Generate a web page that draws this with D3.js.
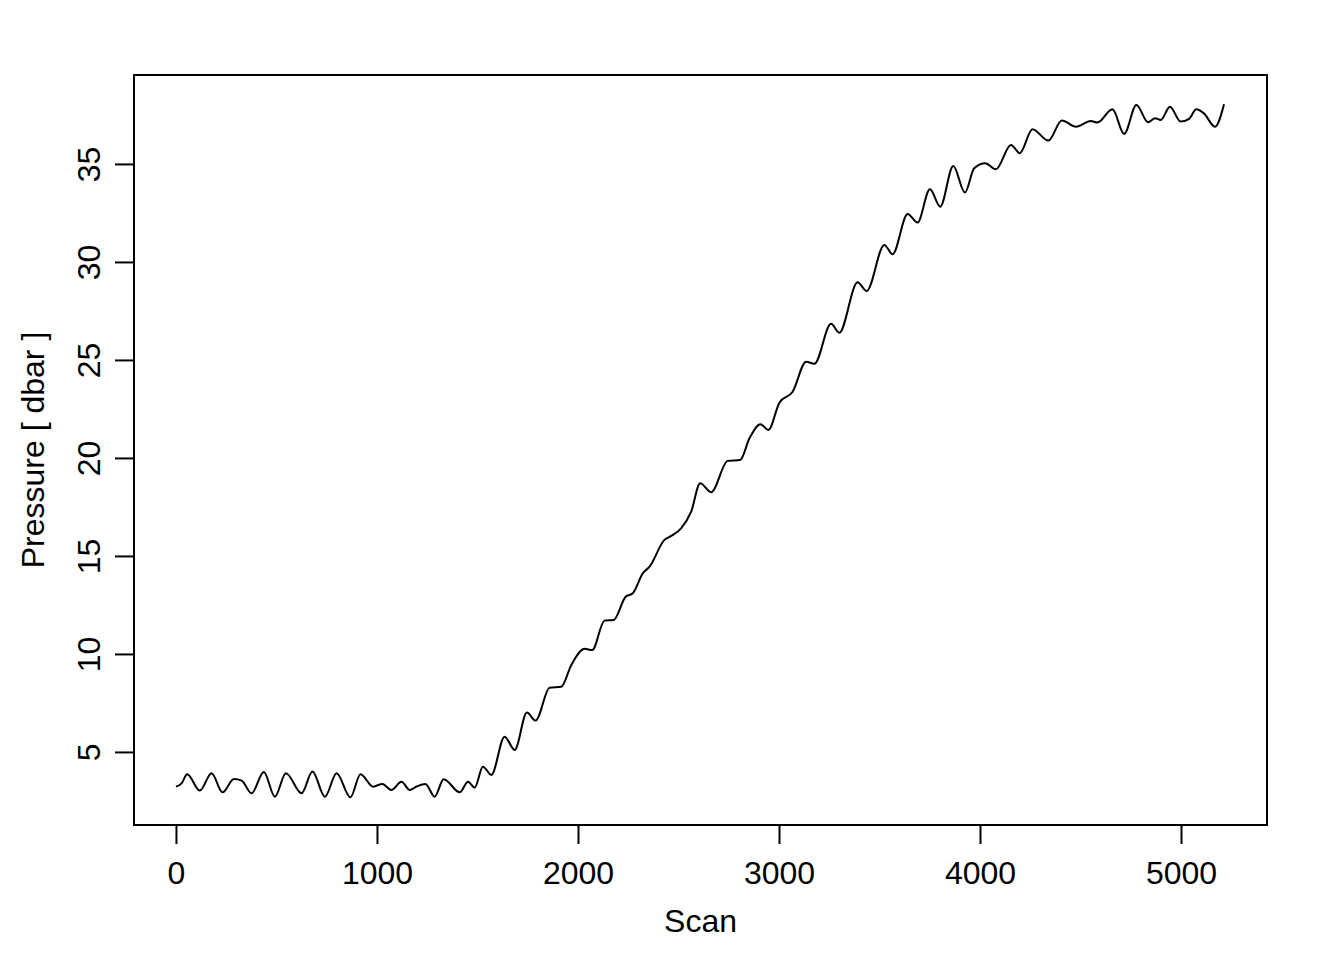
<!DOCTYPE html>
<html>
<head>
<meta charset="utf-8">
<script src="https://cdn.jsdelivr.net/npm/d3@7"></script>
<style>
  body { margin: 0; background: #fff; }
  svg text { font-family: "Liberation Sans", Arial, Helvetica, sans-serif; fill: #000; }
</style>
</head>
<body>
<svg width="1344" height="960"></svg>
<script>
// Scan numbers.
var scans = [0, 28, 56, 119, 177, 232, 288, 327, 376, 437, 492, 547, 625, 679, 741, 799,
  868, 918, 981, 1027, 1072, 1122, 1163, 1196, 1241, 1287, 1332, 1412, 1453, 1486, 1527,
  1569, 1635, 1685, 1746, 1789, 1859, 1917, 1967, 2033, 2071, 2132, 2177, 2237, 2273,
  2323, 2356, 2430, 2464, 2513, 2563, 2608, 2662, 2745, 2807, 2853, 2908, 2947, 3002,
  3068, 3135, 3176, 3259, 3300, 3391, 3436, 3524, 3565, 3640, 3689, 3751, 3802, 3867,
  3925, 3971, 4026, 4079, 4154, 4198, 4261, 4340, 4407, 4478, 4551, 4584, 4659, 4717,
  4778, 4836, 4871, 4899, 4945, 4998, 5040, 5076, 5114, 5169, 5214];

// Pressure in dbar at each scan.
var pressure = [3.23, 3.40, 3.86, 3.03, 3.91, 2.94, 3.62, 3.54, 2.89, 3.98, 2.72, 3.91,
  2.89, 4.00, 2.72, 3.91, 2.69, 3.86, 3.23, 3.37, 3.06, 3.48, 3.06, 3.23, 3.37, 2.72,
  3.61, 2.94, 3.48, 3.18, 4.25, 3.83, 5.78, 5.10, 7.01, 6.60, 8.28, 8.33, 9.44, 10.26,
  10.20, 11.70, 11.73, 12.92, 13.10, 14.12, 14.45, 15.82, 16.02, 16.41, 17.26, 18.71,
  18.25, 19.85, 19.90, 21.00, 21.72, 21.43, 22.82, 23.38, 24.91, 24.80, 26.84, 26.39,
  28.96, 28.52, 30.87, 30.39, 32.45, 32.01, 33.71, 32.82, 34.90, 33.54, 34.78, 35.04,
  34.73, 35.97, 35.55, 36.77, 36.19, 37.21, 36.90, 37.19, 37.11, 37.79, 36.53, 38.01,
  37.13, 37.33, 37.24, 37.92, 37.16, 37.30, 37.79, 37.58, 36.90, 38.05];

var xTicks = [0, 1000, 2000, 3000, 4000, 5000];
var yTicks = [5, 10, 15, 20, 25, 30, 35];

var svg = d3.select("svg");

// Plot box, as in R with 4% padding around the data range.
var box = {left: 134, right: 1267, top: 75, bottom: 825};

var xMin = 0, xMax = 5219;
var yMin = 2.69, yMax = 38.12;
var xPad = (xMax - xMin) * 0.04, yPad = (yMax - yMin) * 0.04;

var x = d3.scaleLinear()
    .domain([xMin - xPad, xMax + xPad])
    .range([box.left, box.right]);

var y = d3.scaleLinear()
    .domain([yMin - yPad, yMax + yPad])
    .range([box.bottom, box.top]);

var data = scans.map(function (s, i) {
    return {scan: s, p: pressure[i]};
});

// The trace.
var line = d3.line()
    .x(function (d) { return x(d.scan); })
    .y(function (d) { return y(d.p); })
    .curve(d3.curveMonotoneX);

svg.append("path")
    .datum(data)
    .attr("d", line)
    .attr("fill", "none")
    .attr("stroke", "#000")
    .attr("stroke-width", 2)
    .attr("stroke-linejoin", "round");

// Frame.
svg.append("rect")
    .attr("x", box.left)
    .attr("y", box.top)
    .attr("width", box.right - box.left)
    .attr("height", box.bottom - box.top)
    .attr("fill", "none")
    .attr("stroke", "#000")
    .attr("stroke-width", 2);

// Bottom axis.
var xAxis = svg.append("g")
    .attr("transform", "translate(0," + box.bottom + ")")
    .call(d3.axisBottom(x).tickValues(xTicks).tickSize(19).tickPadding(0).tickFormat(d3.format("d")));
xAxis.select(".domain")
    .attr("d", "M" + x(0) + ",0H" + x(5000))
    .attr("stroke-width", 2);
xAxis.selectAll(".tick line").attr("stroke-width", 2);
xAxis.selectAll(".tick text")
    .attr("y", 59)
    .attr("dy", null)
    .style("font-size", "32px")
    .style("font-family", "Liberation Sans, Arial, sans-serif");

// Left axis, labels turned like R does.
var yAxis = svg.append("g")
    .attr("transform", "translate(" + box.left + ",0)")
    .call(d3.axisLeft(y).tickValues(yTicks).tickSize(19));
yAxis.select(".domain")
    .attr("d", "M0," + y(5) + "V" + y(35))
    .attr("stroke-width", 2);
yAxis.selectAll(".tick line").attr("stroke-width", 2);
yAxis.selectAll(".tick text")
    .attr("x", null)
    .attr("dy", null)
    .attr("text-anchor", "middle")
    .attr("transform", "translate(-34,0) rotate(-90)")
    .style("font-size", "32px")
    .style("font-family", "Liberation Sans, Arial, sans-serif");

// Axis titles.
svg.append("text")
    .attr("x", (box.left + box.right) / 2)
    .attr("y", 932)
    .attr("text-anchor", "middle")
    .style("font-size", "32px")
    .text("Scan");

svg.append("text")
    .attr("transform", "translate(44," + (box.top + box.bottom) / 2 + ") rotate(-90)")
    .attr("text-anchor", "middle")
    .style("font-size", "32px")
    .text("Pressure [ dbar ]");
</script>
</body>
</html>
